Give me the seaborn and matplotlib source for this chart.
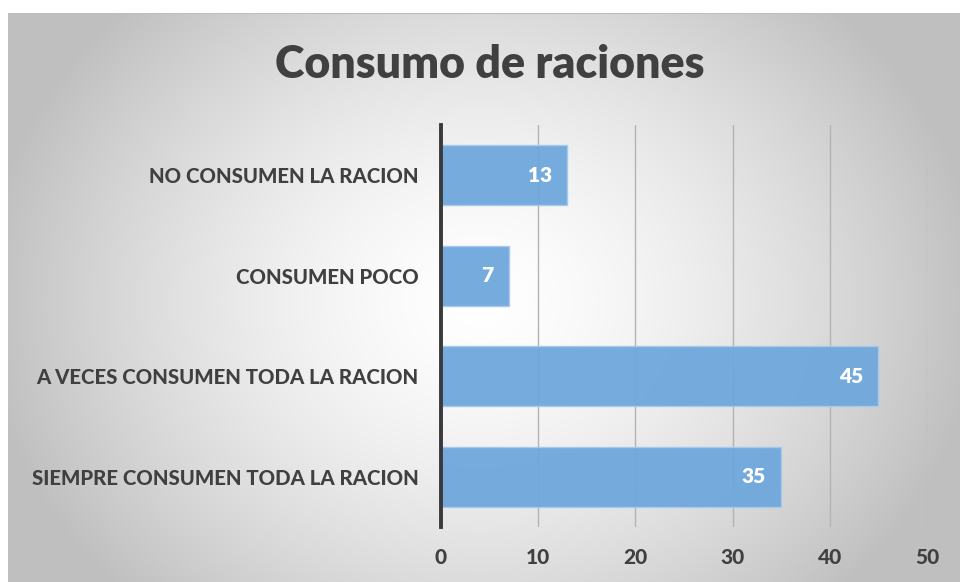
import numpy as np
import matplotlib
matplotlib.use("Agg")
import matplotlib.pyplot as plt
from matplotlib.font_manager import FontProperties
import seaborn as sns
import pandas as pd

categories = ["NO CONSUMEN LA RACION", "CONSUMEN POCO",
              "A VECES CONSUMEN TODA LA RACION", "SIEMPRE CONSUMEN TODA LA RACION"]
values = [13, 7, 45, 35]
xticks = [0, 10, 20, 30, 40, 50]
title = "Consumo de raciones"

sns.set_theme(style="white")
plt.rcParams['font.family'] = ['Lato', 'DejaVu Sans']

W, H = 960, 582
fig = plt.figure(figsize=(9.6, 5.82), dpi=100)
fig.patch.set_facecolor("white")

# gradient background for chart area
bg = fig.add_axes([8 / W, 0, 1 - 8 / W, 1 - 13 / H], zorder=-10)
ny, nx = 300, 500
yy, xx = np.mgrid[0:ny, 0:nx]
px = xx / nx * (W - 8) + 8
py = yy / ny * (H - 13) + 13
cx, cy = 480, 300
d = np.sqrt(((px - cx) / 500) ** 2 + ((py - cy) / 420) ** 2)
g = 1.0 - 0.25 * np.clip(d, 0, 1) ** 1.5
img = np.dstack([g, g, g])
bg.imshow(img, aspect="auto", extent=[0, 1, 0, 1], origin="upper")
bg.set_xlim(0, 1); bg.set_ylim(0, 1)
bg.axis("off")
bg.plot([0, 1], [1, 1], color="#bdbdbd", lw=1.5, transform=bg.transAxes)

ax = fig.add_axes([441 / W, 1 - 527 / H, (927 - 441) / W, (527 - 125) / H])
ax.set_facecolor("none")
df = pd.DataFrame({"cat": categories, "val": values})
sns.barplot(data=df, x="val", y="cat", orient="h", color="#6fa8dc",
            width=0.6, ax=ax, saturation=1, alpha=0.95,
            edgecolor="#a9c9ec", linewidth=1, zorder=3)

ax.set_xlim(0, 50)
ax.set_ylim(3.5, -0.5)
ax.set_xticks(xticks)
ax.set_yticks(range(len(categories)))
for t in xticks[1:]:
    ax.axvline(t, color="#b3b3b3", lw=1, zorder=1)
ax.set_xlabel("")
ax.set_ylabel("")
for s in ["top", "right", "bottom"]:
    ax.spines[s].set_visible(False)
ax.spines["left"].set_color("#3a3a3a")
ax.spines["left"].set_linewidth(2.8)
ax.spines["left"].set_zorder(5)
ax.tick_params(axis="both", length=0, labelcolor="#404040")
ax.tick_params(axis="y", pad=16)
ax.tick_params(axis="x", pad=15)

fp_x = FontProperties(family="Lato", weight="black", size=15)
fp_y = FontProperties(family="Lato", weight="black", size=14.7)
ax.set_xticklabels([str(t) for t in xticks], fontproperties=fp_x)
ax.set_yticklabels(categories, fontproperties=fp_y)

for cont in ax.containers:
    texts = ax.bar_label(cont, labels=[str(v) for v in values], padding=-11,
                         color="white", fontsize=15, fontweight="heavy", zorder=6)
    for t in texts:
        t.set_ha("right")

fig.text(490 / W, 1 - 65 / H, title, ha="center", va="center",
         fontsize=32.1, fontweight="heavy", color="#404040")

fig.savefig("out.png", dpi=100)
